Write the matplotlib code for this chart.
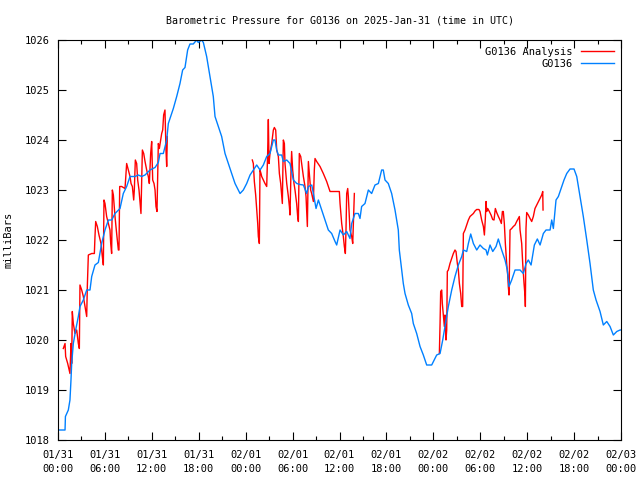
import matplotlib
matplotlib.use("Agg")
import matplotlib.pyplot as plt
import numpy as np
from matplotlib.ticker import MultipleLocator

# hours since 2025-01-31 00:00 UTC
obs_hours = [
    0.0, 0.26, 0.9, 0.95, 1.32, 1.53, 1.66, 1.75, 1.96, 2.26, 2.6, 2.81, 3.24, 3.67, 4.09,
    4.31, 4.73, 5.16, 5.58, 6.01, 6.44, 6.87, 7.29, 7.93, 8.35, 8.78, 9.21, 9.85, 10.27,
    10.7, 11.13, 11.77, 12.41, 12.83, 13.05, 13.47, 13.9, 14.11, 14.32, 14.75, 15.18,
    15.6, 15.94, 16.24, 16.58, 16.88, 17.3, 17.73, 17.94, 18.37, 18.59, 19.01, 19.44,
    19.86, 20.08, 20.5, 20.93, 21.36, 21.78, 22.21, 22.64, 23.28, 23.7, 24.13, 24.56,
    24.98, 25.41, 25.84, 26.26, 26.69, 27.11, 27.54, 27.75, 27.97, 28.18, 28.61, 28.82,
    29.25, 29.67, 30.1, 30.53, 30.95, 31.38, 31.8, 32.02, 32.45, 32.66, 33.0, 33.3,
    33.72, 34.15, 34.57, 35.0, 35.43, 35.64, 36.07, 36.49, 36.92, 37.34, 37.56, 37.98,
    38.41, 38.62, 38.83, 39.26, 39.69, 40.11, 40.54, 40.97, 41.39, 41.6, 41.82, 42.24,
    42.67, 43.1, 43.52, 43.65, 43.95, 44.16, 44.38, 44.8, 45.23, 45.44, 45.87, 46.3,
    46.72, 47.15, 47.79, 48.43, 48.86, 49.2, 49.49, 49.92, 50.35, 50.77, 51.2, 51.63,
    51.84, 52.27, 52.48, 52.78, 53.12, 53.55, 53.97, 54.4, 54.74, 54.91, 55.25, 55.6,
    56.02, 56.31, 56.74, 57.17, 57.46, 57.68, 58.02, 58.45, 59.09, 59.51, 59.86, 60.15,
    60.5, 60.92, 61.3, 61.65, 62.07, 62.41, 62.93, 63.14, 63.35, 63.69, 63.99, 64.42,
    64.71, 65.06, 65.48, 65.99, 66.34, 66.76, 67.18, 67.62, 68.04, 68.46, 68.81, 69.32,
    69.74, 70.18, 70.6, 71.02, 71.46, 71.88, 72.0,
]
obs_mb = [
    1018.2, 1018.2, 1018.2, 1018.47, 1018.6, 1018.8, 1019.2, 1019.53, 1019.93, 1020.2,
    1020.47, 1020.67, 1020.8, 1021.0, 1021.0, 1021.27, 1021.5, 1021.55, 1021.93, 1022.2,
    1022.4, 1022.4, 1022.53, 1022.63, 1022.93, 1023.07, 1023.27, 1023.27, 1023.3,
    1023.27, 1023.3, 1023.4, 1023.45, 1023.55, 1023.73, 1023.73, 1024.0, 1024.33,
    1024.43, 1024.63, 1024.87, 1025.13, 1025.4, 1025.45, 1025.8, 1025.92, 1025.92,
    1026.0, 1025.95, 1026.0, 1025.95, 1025.67, 1025.27, 1024.87, 1024.47, 1024.27,
    1024.07, 1023.73, 1023.53, 1023.33, 1023.13, 1022.93, 1023.0, 1023.13, 1023.3,
    1023.4, 1023.5, 1023.4, 1023.5, 1023.67, 1023.73, 1024.0, 1024.0, 1023.8, 1023.7,
    1023.7, 1023.57, 1023.6, 1023.53, 1023.2, 1023.13, 1023.11, 1023.1, 1022.93,
    1023.07, 1023.1, 1022.93, 1022.63, 1022.8, 1022.6, 1022.4, 1022.2, 1022.13, 1021.97,
    1021.9, 1022.2, 1022.1, 1022.17, 1022.03, 1022.33, 1022.53, 1022.53, 1022.43,
    1022.67, 1022.73, 1023.0, 1022.93, 1023.1, 1023.13, 1023.4, 1023.4, 1023.2, 1023.13,
    1022.93, 1022.6, 1022.2, 1021.8, 1021.4, 1021.13, 1020.93, 1020.7, 1020.53, 1020.33,
    1020.13, 1019.87, 1019.7, 1019.5, 1019.5, 1019.7, 1019.73, 1020.0, 1020.27, 1020.67,
    1021.0, 1021.27, 1021.5, 1021.67, 1021.8, 1021.77, 1021.93, 1022.12, 1021.93, 1021.8,
    1021.9, 1021.83, 1021.8, 1021.7, 1021.9, 1021.77, 1021.87, 1022.02, 1021.8, 1021.6,
    1021.4, 1021.07, 1021.2, 1021.4, 1021.4, 1021.33, 1021.53, 1021.6, 1021.5, 1021.9,
    1022.02, 1021.9, 1022.13, 1022.2, 1022.2, 1022.4, 1022.23, 1022.8, 1022.87, 1023.07,
    1023.2, 1023.33, 1023.42, 1023.42, 1023.27, 1022.87, 1022.47, 1022.0, 1021.53,
    1021.0, 1020.8, 1020.57, 1020.3, 1020.37, 1020.27, 1020.1, 1020.17, 1020.2, 1020.2,
]

# analysis series, three runs separated by gaps (nan)
ana_hours = [
    0.68, 0.90, 0.98, 1.24, 1.53, 1.66, 1.75, 1.83, 1.96, 2.17, 2.39, 2.6, 2.73, 2.81,
    3.03, 3.24, 3.45, 3.67, 3.75, 3.88, 4.31, 4.65, 4.73, 4.82, 5.03, 5.24, 5.5, 5.67,
    5.8, 5.88, 6.01, 6.22, 6.44, 6.65, 6.74, 6.86, 6.95, 7.08, 7.29, 7.5, 7.72, 7.8,
    7.89, 8.14, 8.57, 8.78, 9.0, 9.21, 9.34, 9.51, 9.68, 9.76, 9.89, 10.06, 10.19,
    10.36, 10.53, 10.61, 10.79, 10.96, 11.13, 11.34, 11.55, 11.68, 11.85, 11.98, 12.11,
    12.28, 12.41, 12.53, 12.66, 12.83, 12.96, 13.13, 13.26, 13.39, 13.51, 13.68, 13.81,
    13.9, 13.98,
    19.0,
    24.85, 24.98, 25.11, 25.28, 25.41, 25.54, 25.62, 25.75, 25.83, 25.96, 26.05, 26.26,
    26.47, 26.69, 26.81, 26.9, 26.99, 27.11, 27.33, 27.54, 27.67, 27.84, 27.97, 28.18,
    28.31, 28.48, 28.61, 28.69, 28.82, 28.95, 29.03, 29.25, 29.46, 29.59, 29.67, 29.8,
    29.88, 30.01, 30.18, 30.31, 30.52, 30.65, 30.74, 30.86, 31.04, 31.16, 31.38, 31.59,
    31.72, 31.89, 32.02, 32.14, 32.31, 32.44, 32.66, 32.78, 32.87, 33.08, 33.51, 33.93,
    34.36, 34.57, 34.79, 35.43, 35.98, 36.07, 36.28, 36.49, 36.62, 36.75, 36.83, 36.92,
    37.05, 37.13, 37.26, 37.34, 37.56, 37.69, 37.77, 37.9,
    43.0,
    48.77, 48.86, 48.94, 49.07, 49.15, 49.28, 49.41, 49.49, 49.62, 49.71, 49.79, 49.92,
    50.13, 50.35, 50.56, 50.77, 50.9, 51.07, 51.2, 51.33, 51.5, 51.63, 51.75, 51.84,
    52.05, 52.27, 52.48, 52.69, 52.91, 53.12, 53.33, 53.54, 53.84, 53.97, 54.18, 54.4,
    54.53, 54.65, 54.74, 54.82, 54.95, 55.16, 55.38, 55.59, 55.76, 55.93, 56.1, 56.32,
    56.53, 56.7, 56.83, 56.95, 57.08, 57.21, 57.38, 57.51, 57.59, 57.68, 57.81, 58.02,
    58.23, 58.45, 58.66, 58.87, 59.0, 59.09, 59.3, 59.43, 59.6, 59.73, 59.77, 59.85,
    59.94, 60.15, 60.37, 60.58, 60.79, 61.0, 61.22, 61.43, 61.64, 61.86, 61.99, 62.03,
]
ana_mb = [
    1019.83, 1019.93, 1019.67, 1019.53, 1019.33, 1019.93, 1019.53, 1020.57, 1020.33,
    1020.13, 1020.2, 1019.93, 1019.83, 1021.1, 1021.0, 1020.87, 1020.67, 1020.47,
    1021.07, 1021.7, 1021.73, 1021.73, 1022.07, 1022.37, 1022.27, 1022.1, 1021.93,
    1021.67, 1021.5, 1022.8, 1022.73, 1022.47, 1022.33, 1022.2, 1021.93, 1021.73,
    1023.0, 1022.9, 1022.47, 1022.13, 1021.8, 1021.8, 1023.07, 1023.07, 1023.03,
    1023.53, 1023.4, 1023.27, 1023.13, 1023.07, 1022.8, 1023.0, 1023.6, 1023.53,
    1023.2, 1023.0, 1022.67, 1022.53, 1023.8, 1023.73, 1023.57, 1023.4, 1023.27,
    1023.13, 1023.73, 1023.97, 1023.2, 1023.13, 1023.0, 1022.67, 1022.57, 1023.93,
    1023.83, 1024.0, 1024.13, 1024.2, 1024.5, 1024.6, 1023.8, 1023.47, 1024.07,
    np.nan,
    1023.6, 1023.53, 1023.17, 1022.9, 1022.6, 1022.33, 1022.07, 1021.93, 1023.4,
    1023.33, 1023.27, 1023.2, 1023.13, 1023.07, 1023.73, 1024.41, 1023.53, 1023.73,
    1023.93, 1024.2, 1024.25, 1024.2, 1023.8, 1023.67, 1023.33, 1023.13, 1022.87,
    1022.73, 1024.0, 1023.93, 1023.53, 1023.13, 1022.87, 1022.67, 1022.5, 1023.4,
    1023.77, 1023.4, 1023.13, 1023.0, 1022.73, 1022.47, 1022.37, 1023.73, 1023.67,
    1023.53, 1023.27, 1023.07, 1022.87, 1022.27, 1023.57, 1023.33, 1023.0, 1022.93,
    1022.77, 1023.4, 1023.63, 1023.57, 1023.47, 1023.33, 1023.17, 1023.07, 1022.97,
    1022.97, 1022.97, 1022.73, 1022.33, 1022.07, 1021.87, 1021.73, 1022.2, 1022.93,
    1023.03, 1022.87, 1022.47, 1022.2, 1022.07, 1021.93, 1022.3, 1022.93,
    np.nan,
    1019.73, 1020.33, 1020.97, 1021.0, 1020.73, 1020.5, 1020.27, 1020.5, 1020.0,
    1020.2, 1021.37, 1021.4, 1021.53, 1021.63, 1021.73, 1021.8, 1021.77, 1021.53,
    1021.4, 1021.13, 1020.93, 1020.67, 1020.67, 1022.13, 1022.2, 1022.3, 1022.4,
    1022.47, 1022.5, 1022.53, 1022.58, 1022.61, 1022.61, 1022.57, 1022.4, 1022.27,
    1022.1, 1022.43, 1022.77, 1022.57, 1022.63, 1022.57, 1022.5, 1022.41, 1022.4,
    1022.63, 1022.55, 1022.47, 1022.4, 1022.33, 1022.57, 1022.57, 1022.33, 1021.93,
    1021.53, 1021.3, 1021.07, 1020.9, 1022.2, 1022.23, 1022.27, 1022.3, 1022.37,
    1022.43, 1022.47, 1022.2, 1021.93, 1021.53, 1021.13, 1020.87, 1020.67, 1022.23,
    1022.55, 1022.5, 1022.43, 1022.37, 1022.47, 1022.63, 1022.7, 1022.77, 1022.83,
    1022.9, 1022.97, 1022.6,
]

tick_hours = list(range(0, 73, 6))
tick_labels = [
    "01/31\n00:00", "01/31\n06:00", "01/31\n12:00", "01/31\n18:00",
    "02/01\n00:00", "02/01\n06:00", "02/01\n12:00", "02/01\n18:00",
    "02/02\n00:00", "02/02\n06:00", "02/02\n12:00", "02/02\n18:00",
    "02/03\n00:00",
]

plt.rcParams["font.family"] = "DejaVu Sans Mono"
plt.rcParams["font.size"] = 7.5

fig = plt.figure(figsize=(6.4, 4.8), dpi=100)
ax = fig.add_axes([58 / 640, 40 / 480, 563 / 640, 400 / 480])

ax.plot(ana_hours, ana_mb, color="#ff0000", linewidth=1.0, label="G0136 Analysis")
ax.plot(obs_hours, obs_mb, color="#0080ff", linewidth=1.0, label="G0136")

ax.set_xlim(0, 72)
ax.set_ylim(1018, 1026)
ax.set_xticks(tick_hours)
ax.set_xticklabels(tick_labels, linespacing=1.5)
ax.xaxis.set_minor_locator(MultipleLocator(3))
ax.yaxis.set_major_locator(MultipleLocator(1))
ax.tick_params(which="both", direction="in", top=True, right=True, width=0.8)
ax.tick_params(which="major", length=6)
ax.tick_params(which="minor", length=3)
ax.tick_params(axis="x", pad=7)
ax.tick_params(axis="y", pad=6)
for s in ax.spines.values():
    s.set_linewidth(0.8)

ax.set_ylabel("milliBars", labelpad=8)
ax.set_title("Barometric Pressure for G0136 on 2025-Jan-31 (time in UTC)",
             fontsize=7.2, pad=12)

ax.legend(loc="upper right", frameon=False, markerfirst=False, handlelength=3.2,
          borderaxespad=0.25, labelspacing=0.2, handletextpad=0.8)

fig.savefig("out.png", dpi=100)
